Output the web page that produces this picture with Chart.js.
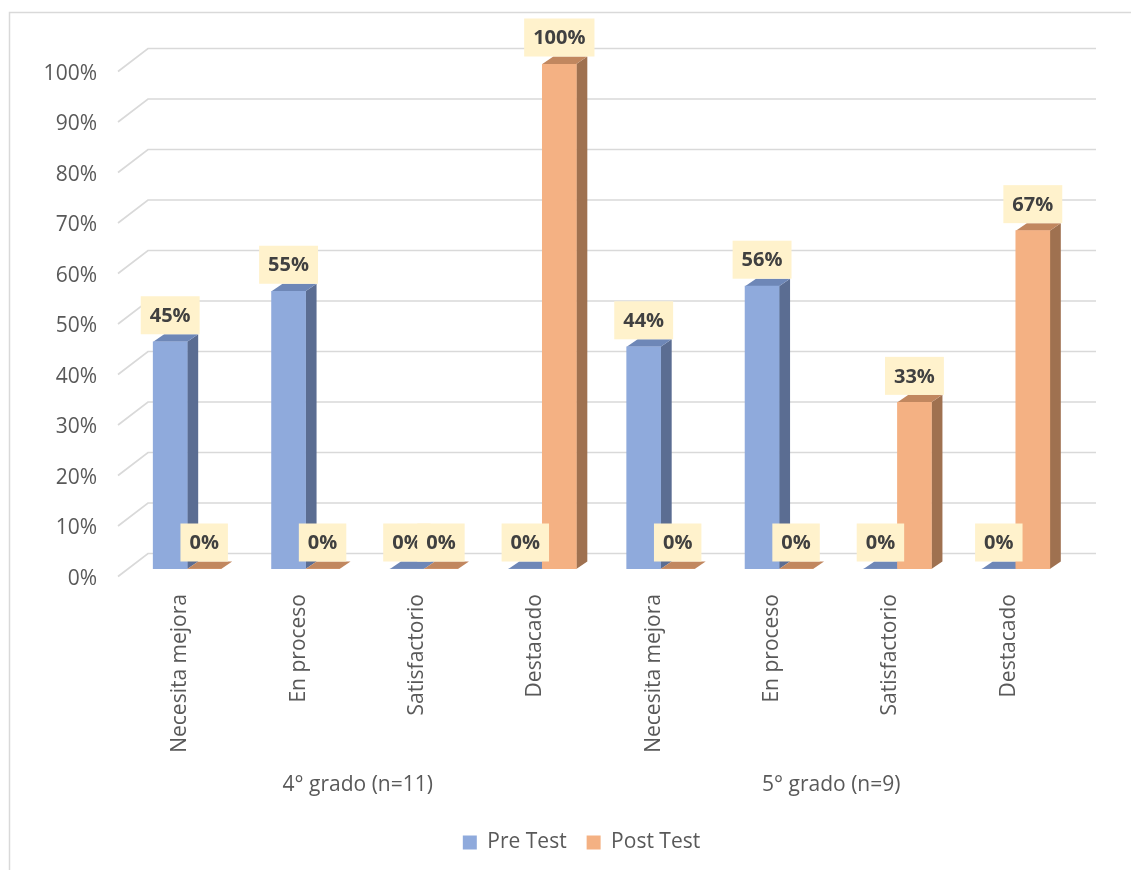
<!DOCTYPE html>
<html><head><meta charset="utf-8">
<script src="https://cdn.jsdelivr.net/npm/chart.js@4.4.1/dist/chart.umd.min.js"></script>
<style>html,body{margin:0;padding:0;background:#fff;}#wrap{width:1131px;height:870px;}</style>
</head><body><div id="wrap"><canvas id="c" width="1131" height="870" style="width:1131px;height:870px"></canvas></div>
<script>
const categories = ['Necesita mejora','En proceso','Satisfactorio','Destacado','Necesita mejora','En proceso','Satisfactorio','Destacado'];
const groups = ['4° grado (n=11)','5° grado (n=9)'];
const groupSize = 4;
const preTest = [45, 55, 0, 0, 44, 56, 0, 0];
const postTest = [0, 0, 0, 100, 0, 0, 33, 67];
const yTicks = [0,10,20,30,40,50,60,70,80,90,100];
const seriesNames = ['Pre Test','Post Test'];

const FONT = '"Open Sans", "DejaVu Sans", sans-serif';
const DX = 11, DY = 7.5;
const shades = [
  {front:'#8FAADC', side:'#5B6D92', top:'#6E87B7'},
  {front:'#F4B183', side:'#9F7150', top:'#C1875F'}
];

function poly(ctx, pts, color){
  ctx.fillStyle = color;
  ctx.beginPath();
  ctx.moveTo(pts[0][0], pts[0][1]);
  for (let i=1;i<pts.length;i++) ctx.lineTo(pts[i][0], pts[i][1]);
  ctx.closePath();
  ctx.fill();
}

const pseudo3d = {
  id:'pseudo3d',
  beforeDraw(chart){
    const ctx = chart.ctx;
    ctx.save();
    ctx.strokeStyle = '#D9D9D9'; ctx.lineWidth = 1.5;
    ctx.beginPath();
    ctx.moveTo(9.5, 870); ctx.lineTo(9.5, 12.5); ctx.lineTo(1131, 12.5);
    ctx.stroke();
    ctx.restore();
  },
  beforeDatasetsDraw(chart){
    const {ctx, chartArea:a, scales:{y}} = chart;
    ctx.save();
    ctx.strokeStyle = '#D9D9D9'; ctx.lineWidth = 1.7;
    yTicks.forEach(v => {
      const p = y.getPixelForValue(v);
      ctx.beginPath();
      ctx.moveTo(a.left - 10, p + 7.5);
      ctx.lineTo(a.left + 20, p - 15.5);
      ctx.lineTo(a.right + 21, p - 15.5);
      ctx.stroke();
    });
    chart.data.datasets.forEach((ds, di) => {
      const meta = chart.getDatasetMeta(di);
      const sh = shades[di];
      meta.data.forEach(bar => {
        const {x, y:top, base, width} = bar.getProps(['x','y','base','width'], true);
        const l = x - width/2, r = x + width/2;
        if (base - top > 0.5) {
          poly(ctx, [[r,top],[r+DX,top-DY],[r+DX,base-DY],[r,base]], sh.side);
        }
        poly(ctx, [[l,top],[r,top],[r+DX,top-DY],[l+DX,top-DY]], sh.top);
      });
    });
    ctx.restore();
  },
  afterDatasetsDraw(chart){
    const {ctx} = chart;
    ctx.save();
    ctx.font = 'bold 20px ' + FONT;
    ctx.textAlign = 'center';
    ctx.textBaseline = 'middle';
    chart.data.datasets.forEach((ds, di) => {
      const meta = chart.getDatasetMeta(di);
      meta.data.forEach((bar, i) => {
        const {x, y:top} = bar.getProps(['x','y'], true);
        const txt = ds.data[i] + '%';
        const w = ctx.measureText(txt).width + 18;
        const h = 38;
        const by = top - DY - h;
        ctx.fillStyle = '#FFF2CC';
        ctx.fillRect(x - w/2, by, w, h);
        ctx.fillStyle = '#404040';
        ctx.fillText(txt, x, by + h/2 + 1);
      });
    });
    ctx.restore();
  },
  afterDraw(chart){
    const {ctx, chartArea:a, scales:{x}} = chart;
    ctx.save();
    ctx.font = '21px ' + FONT;
    ctx.fillStyle = '#595959';
    ctx.textAlign = 'center';
    ctx.textBaseline = 'middle';
    groups.forEach((g, gi) => {
      let sum = 0;
      for (let k=0;k<groupSize;k++) sum += x.getPixelForValue(gi*groupSize + k);
      ctx.fillText(g, sum/groupSize - 7, a.bottom + 216);
    });
    ctx.restore();
  }
};

new Chart(document.getElementById('c'), {
  type:'bar',
  data:{
    labels: categories,
    datasets:[
      {label: seriesNames[0], data: preTest, backgroundColor: shades[0].front, borderWidth:0, barThickness:34},
      {label: seriesNames[1], data: postTest, backgroundColor: shades[1].front, borderWidth:0, barThickness:34}
    ]
  },
  options:{
    responsive:false,
    animation:false,
    layout:{padding:{left:40, right:8, top:64, bottom:7}},
    scales:{
      x:{
        grid:{display:false, drawTicks:false},
        border:{display:false},
        ticks:{autoSkip:false, maxRotation:90, minRotation:90, padding:25, labelOffset:-7,
               color:'#595959', font:{family:FONT, size:21}},
        afterFit(s){ s.height = 243; }
      },
      y:{
        min:0, max:100,
        grid:{display:false, drawTicks:false},
        border:{display:false},
        ticks:{stepSize:10, padding:31, labelOffset:10, color:'#595959',
               font:{family:FONT, size:21}, callback:v => v + '%'},
        afterFit(s){ s.width = 88; }
      },
      yRight:{
        position:'right', min:0, max:100,
        grid:{display:false, drawTicks:false},
        border:{display:false},
        ticks:{display:false},
        afterFit(s){ s.width = 48; }
      }
    },
    plugins:{
      legend:{position:'bottom',
        labels:{boxWidth:14, boxHeight:14, padding:20, color:'#595959', font:{family:FONT, size:21}}},
      tooltip:{enabled:false}
    }
  },
  plugins:[pseudo3d]
});
</script></body></html>
